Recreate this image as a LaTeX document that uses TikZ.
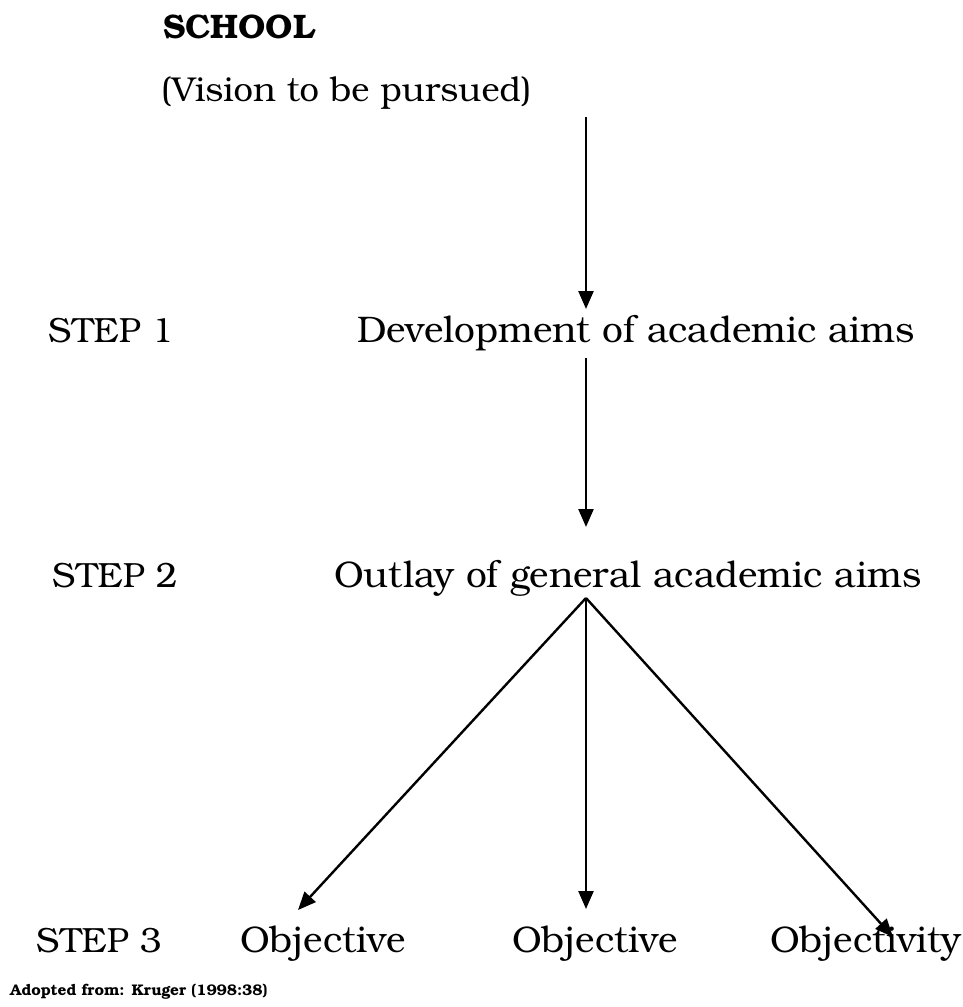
\documentclass[tikz,border=0pt]{standalone}
\usepackage{fontspec}
\setmainfont{TeX Gyre Bonum}
\usetikzlibrary{arrows.meta}
\tikzset{
  lbl/.style={anchor=base west, inner sep=0pt, font=\fontsize{37}{40}\selectfont},
  stp/.style={anchor=base west, inner sep=0pt, font=\fontsize{35}{38}\selectfont},
  vis/.style={anchor=base west, inner sep=0pt, font=\fontsize{34.5}{38}\selectfont},
  ttl/.style={anchor=base west, inner sep=0pt, font=\fontsize{34}{36}\selectfont\bfseries},
  src/.style={anchor=base west, inner sep=0pt, font=\fontsize{15.4}{18}\selectfont\bfseries},
  conn/.style={line width=2.4pt, -{Triangle[length=18pt,width=15pt]}}
}
\begin{document}
\begin{tikzpicture}[x=1pt,y=-1pt]
\useasboundingbox (0,0) rectangle (963,1007);
\node[ttl] (school) at (163,38) {SCHOOL};
\node[vis] (vision) at (161,101) {(Vision to be pursued)};
\node[stp] (s1) at (48,342) {STEP 1};
\node[lbl] (dev) at (357,342) {Development of academic aims};
\node[stp] (s2) at (52,587) {STEP 2};
\node[lbl] (out) at (334,587) {Outlay of general academic aims};
\node[stp] (s3) at (36,952) {STEP 3};
\node[lbl] (o1) at (240,952) {Objective};
\node[lbl] (o2) at (512,952) {Objective};
\node[lbl] (o3) at (770,952) {Objectivity};
\node[src] (adopt) at (10,995) {Adopted from: Kruger (1998:38)};
\coordinate (a0) at (586,117);
\coordinate (a1) at (586,309);
\coordinate (b0) at (586,358);
\coordinate (b1) at (586,527);
\coordinate (apex) at (586,598);
\coordinate (t1) at (298,910);
\coordinate (t2) at (586,909);
\coordinate (t3) at (893,937);
\draw[conn] (a0) -- (a1);
\draw[conn] (b0) -- (b1);
\draw[conn] (apex) -- (t1);
\draw[conn] (apex) -- (t2);
\draw[conn] (apex) -- (t3);
\end{tikzpicture}
\end{document}
